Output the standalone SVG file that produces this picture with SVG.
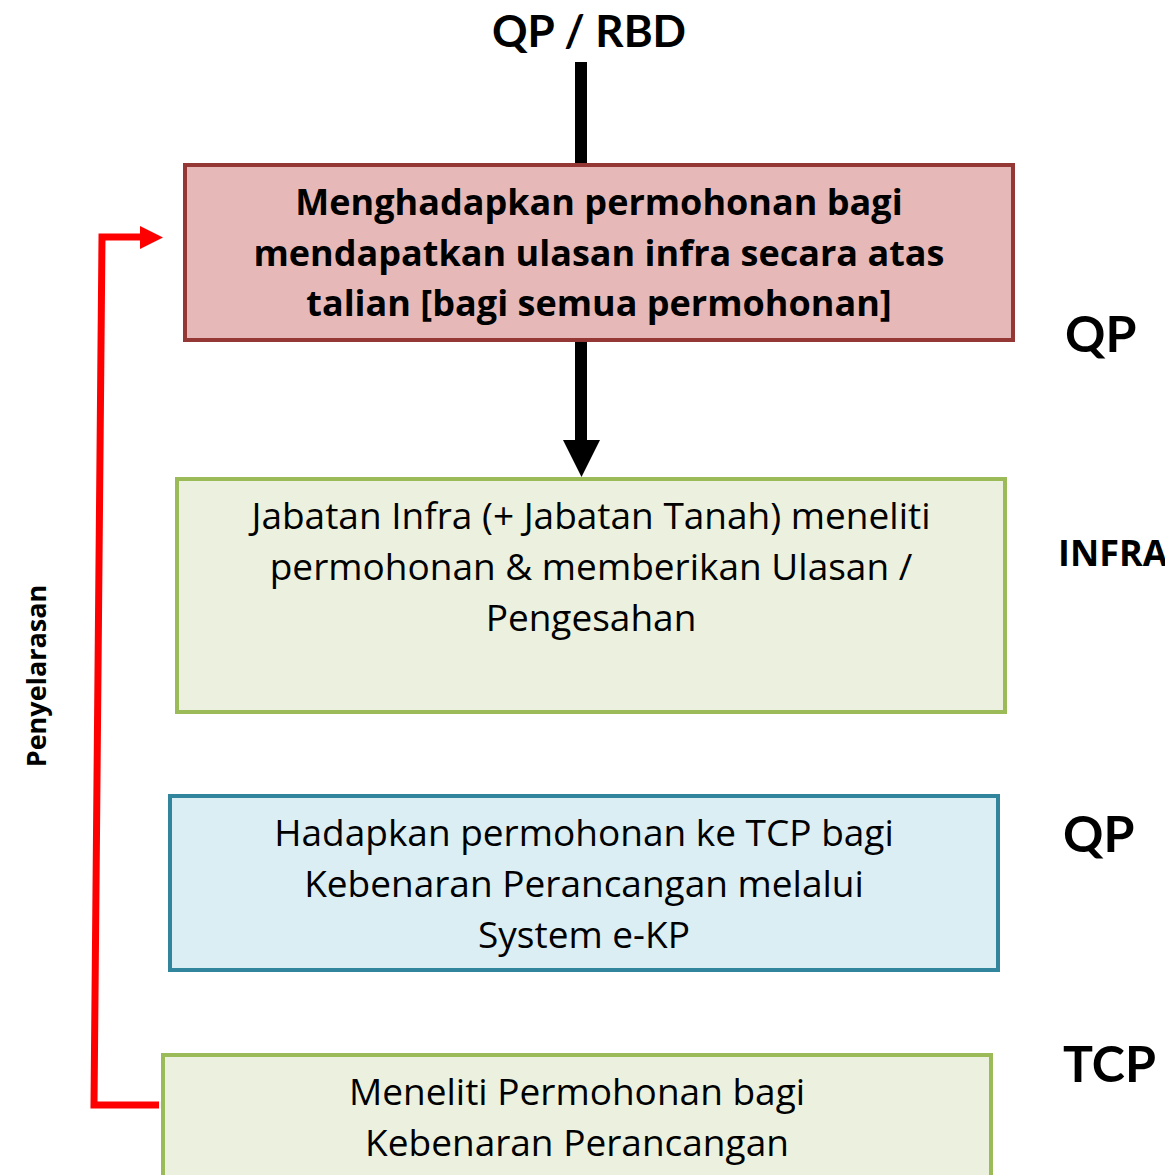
<svg xmlns="http://www.w3.org/2000/svg" width="1165" height="1175" viewBox="0 0 1165 1175">
<style>
text{font-family:"Lato","Open Sans","Liberation Sans",sans-serif;fill:#000}
.os{font-family:"Open Sans","Lato","Liberation Sans",sans-serif}
.b{font-weight:bold}
.t1{font-size:36px;font-weight:bold}
.t2{font-size:37px}
.lab{font-weight:bold;font-size:50px}
</style>
<rect width="1165" height="1175" fill="#fff"/>
<text x="589" y="47" text-anchor="middle" class="b" font-size="44">QP / RBD</text>
<g id="connectors">
<line x1="581" y1="62" x2="581" y2="165" stroke="#000" stroke-width="12"/>
<line x1="581" y1="341" x2="581" y2="442" stroke="#000" stroke-width="12"/>
<polygon points="563,440 600,440 581.5,477" fill="#000"/>
<polyline points="159,1105 94,1105 102,237 141,237" fill="none" stroke="#FF0000" stroke-width="7"/>
<polygon points="140,226 163,237.5 140,249" fill="#FF0000"/>
</g>
<g id="node1">
<rect x="185" y="165" width="828" height="175" fill="#E6B9B8" stroke="#953735" stroke-width="4"/>
<text x="599" y="215" text-anchor="middle" class="t1 os">Menghadapkan permohonan bagi</text>
<text x="599" y="266" text-anchor="middle" class="t1 os">mendapatkan ulasan infra secara atas</text>
<text x="599" y="316" text-anchor="middle" class="t1 os">talian [bagi semua permohonan]</text>
</g>
<g id="node2">
<rect x="177" y="479" width="828" height="233" fill="#EBF1DE" stroke="#9BBB59" stroke-width="4"/>
<text x="591" y="529" text-anchor="middle" class="t2 os">Jabatan Infra (+ Jabatan Tanah) meneliti</text>
<text x="591" y="580" text-anchor="middle" class="t2 os">permohonan &amp; memberikan Ulasan /</text>
<text x="591" y="631" text-anchor="middle" class="t2 os">Pengesahan</text>
</g>
<g id="node3">
<rect x="170" y="796" width="828" height="174" fill="#DBEEF3" stroke="#31859C" stroke-width="4"/>
<text x="584" y="846" text-anchor="middle" class="t2 os">Hadapkan permohonan ke TCP bagi</text>
<text x="584" y="897" text-anchor="middle" class="t2 os">Kebenaran Perancangan melalui</text>
<text x="584" y="948" text-anchor="middle" class="t2 os">System e-KP</text>
</g>
<g id="node4">
<rect x="163" y="1055" width="828" height="140" fill="#EBF1DE" stroke="#9BBB59" stroke-width="4"/>
<text x="577" y="1105" text-anchor="middle" class="t2 os">Meneliti Permohonan bagi</text>
<text x="577" y="1156" text-anchor="middle" class="t2 os">Kebenaran Perancangan</text>
</g>
<g id="labels">
<text x="1065" y="352" class="lab">QP</text>
<text x="1058" y="566" class="b os" font-size="36">INFRA</text>
<text x="1063" y="852" class="lab">QP</text>
<text x="1063" y="1082" class="lab">TCP</text>
<text transform="translate(46,676) rotate(-90)" text-anchor="middle" class="b os" font-size="27">Penyelarasan</text>
</g>
</svg>
